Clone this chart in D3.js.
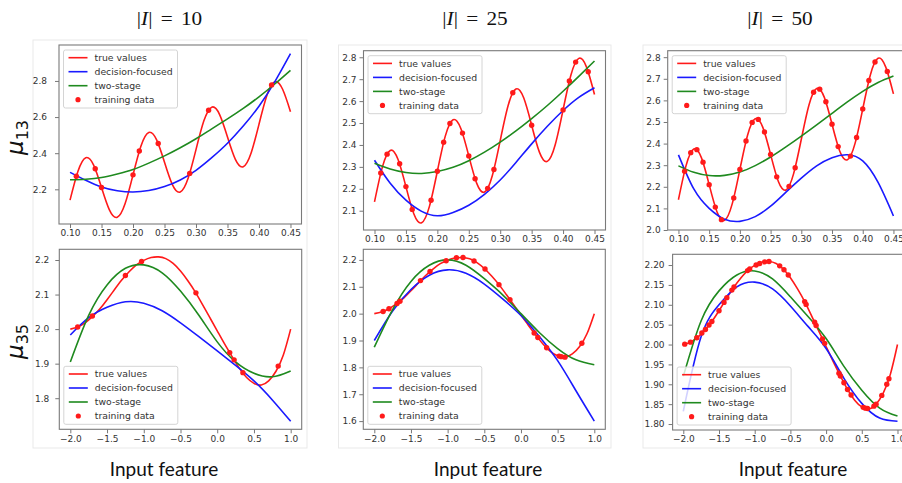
<!DOCTYPE html>
<html>
<head>
<meta charset="utf-8">
<script src="https://cdn.jsdelivr.net/npm/d3@7"></script>
<style>
body { margin: 0; background: #fff; }
svg { display: block; }
</style>
</head>
<body>
<svg id="fig" width="902" height="483"></svg>
<script>

// ---- data ----

var seriesNames = ['true values', 'decision-focused', 'two-stage', 'training data']
var columnTitles = ['10', '25', '50']

// top row: mu_13 against the input feature
var trueTopX = [0.1, 0.1125, 0.125, 0.1375, 0.15, 0.1625, 0.175, 0.1875, 0.2, 0.2125, 0.225, 0.2375, 0.25, 0.2625, 0.275,
	0.2875, 0.3, 0.3125, 0.325, 0.3375, 0.35, 0.3625, 0.375, 0.3875, 0.4, 0.4125, 0.425, 0.4375, 0.45]
var trueTopY = [2.140, 2.299, 2.375, 2.334, 2.210, 2.086, 2.045, 2.121, 2.280, 2.439, 2.515, 2.474, 2.350, 2.226, 2.185,
	2.261, 2.420, 2.579, 2.655, 2.614, 2.490, 2.366, 2.325, 2.401, 2.560, 2.719, 2.795, 2.754, 2.630]

var fitTopX = [0.1, 0.125, 0.15, 0.175, 0.2, 0.225, 0.25, 0.275, 0.3, 0.325, 0.35, 0.375, 0.4, 0.425, 0.45]
var dfTop10 = [2.294, 2.250, 2.213, 2.192, 2.185, 2.193, 2.215, 2.252, 2.305, 2.375, 2.455, 2.550, 2.660, 2.795, 2.951]
var tsTop10 = [2.253, 2.256, 2.265, 2.285, 2.310, 2.345, 2.385, 2.430, 2.480, 2.535, 2.590, 2.648, 2.712, 2.783, 2.859]
var dfTop25 = [2.330, 2.225, 2.148, 2.097, 2.077, 2.092, 2.125, 2.175, 2.240, 2.320, 2.405, 2.485, 2.557, 2.617, 2.661]
var tsTop25 = [2.316, 2.290, 2.274, 2.270, 2.279, 2.298, 2.328, 2.367, 2.413, 2.464, 2.520, 2.580, 2.645, 2.713, 2.783]
var dfTop50 = [2.348, 2.190, 2.100, 2.050, 2.040, 2.062, 2.110, 2.175, 2.240, 2.297, 2.335, 2.348, 2.320, 2.220, 2.065]
var tsTop50 = [2.297, 2.267, 2.252, 2.253, 2.268, 2.298, 2.338, 2.385, 2.435, 2.487, 2.540, 2.593, 2.642, 2.683, 2.713]

var trainTop10X = [0.11, 0.14, 0.15, 0.20, 0.21, 0.24, 0.29, 0.32, 0.42]
var trainTop10Y = [2.272, 2.314, 2.210, 2.280, 2.412, 2.454, 2.288, 2.638, 2.778]
var trainTop25X = [0.11, 0.12, 0.14, 0.15, 0.16, 0.19, 0.20, 0.21, 0.22, 0.24, 0.25, 0.26, 0.28, 0.29, 0.32, 0.35, 0.40, 0.41, 0.42, 0.44]
var trainTop25Y = [2.272, 2.358, 2.314, 2.210, 2.106, 2.148, 2.280, 2.412, 2.498, 2.454, 2.350, 2.246, 2.202, 2.288, 2.638, 2.490, 2.560, 2.692, 2.778, 2.734]
var trainTop50X = [0.11, 0.12, 0.13, 0.14, 0.15, 0.16, 0.17, 0.19, 0.20, 0.21, 0.22, 0.23, 0.24, 0.25, 0.26, 0.28, 0.29,
	0.32, 0.33, 0.34, 0.35, 0.36, 0.38, 0.39, 0.40, 0.41, 0.42, 0.44]
var trainTop50Y = [2.272, 2.358, 2.372, 2.314, 2.210, 2.106, 2.048, 2.148, 2.280, 2.412, 2.498, 2.512, 2.454, 2.350, 2.246, 2.202, 2.288,
	2.638, 2.652, 2.594, 2.490, 2.386, 2.342, 2.428, 2.560, 2.692, 2.778, 2.734]

// bottom row: mu_35 against the input feature
var trueBotX = [-2.0, -1.9, -1.8, -1.7, -1.6, -1.5, -1.4, -1.3, -1.2, -1.1, -1.0, -0.9, -0.8, -0.7, -0.6, -0.5,
	-0.4, -0.3, -0.2, -0.1, 0.0, 0.1, 0.2, 0.3, 0.4, 0.5, 0.6, 0.7, 0.8, 0.9, 1.0]
var trueBotY = [2.000, 2.006, 2.018, 2.036, 2.058, 2.085, 2.114, 2.142, 2.166, 2.186, 2.199, 2.207, 2.209, 2.204, 2.190, 2.168,
	2.140, 2.108, 2.071, 2.033, 1.995, 1.957, 1.921, 1.887, 1.860, 1.843, 1.838, 1.850, 1.878, 1.925, 2.000]

var fitBotX = [-2.0, -1.75, -1.5, -1.25, -1.0, -0.75, -0.5, -0.25, 0.0, 0.25, 0.5, 0.75, 1.0]
var dfBot10 = [1.983, 2.033, 2.063, 2.079, 2.075, 2.053, 2.018, 1.978, 1.937, 1.895, 1.850, 1.795, 1.733]
var tsBot10 = [1.905, 2.040, 2.128, 2.176, 2.186, 2.163, 2.110, 2.040, 1.963, 1.905, 1.872, 1.862, 1.879]
var dfBot25 = [1.900, 2.010, 2.090, 2.143, 2.163, 2.150, 2.110, 2.055, 1.993, 1.915, 1.825, 1.713, 1.600]
var tsBot25 = [1.875, 2.015, 2.120, 2.180, 2.200, 2.180, 2.130, 2.070, 2.000, 1.930, 1.870, 1.828, 1.810]
var dfBot50 = [1.832, 2.020, 2.100, 2.145, 2.157, 2.140, 2.097, 2.045, 1.990, 1.915, 1.852, 1.815, 1.807]
var tsBot50 = [1.920, 2.060, 2.135, 2.175, 2.185, 2.165, 2.120, 2.070, 2.015, 1.945, 1.885, 1.840, 1.820]

var trainBot10X = [-1.9, -1.7, -1.25, -1.03, -0.29, 0.17, 0.23, 0.35, 0.83]
var trainBot10Y = [2.006, 2.038, 2.155, 2.196, 2.105, 1.932, 1.911, 1.874, 1.893]
var trainBot25X = [-1.88, -1.8, -1.69, -1.65, -1.37, -1.24, -1.02, -0.88, -0.79, -0.64, -0.49, -0.3, -0.15, 0.18, 0.23, 0.35, 0.52, 0.55, 0.6, 0.83]
var trainBot25Y = [2.008, 2.018, 2.038, 2.046, 2.123, 2.157, 2.197, 2.208, 2.209, 2.196, 2.166, 2.108, 2.052, 1.928, 1.911, 1.873, 1.842, 1.840, 1.838, 1.890]
var trainBot50X = [-1.98, -1.9, -1.81, -1.74, -1.69, -1.64, -1.6, -1.5, -1.43, -1.39, -1.32, -1.29, -1.1, -1.07, -0.98, -0.93, -0.86, -0.8,
	-0.65, -0.59, -0.53, -0.3, -0.28, -0.16, -0.14, -0.05, -0.02, 0.18, 0.2, 0.25, 0.3, 0.35, 0.52, 0.55, 0.58, 0.67, 0.7, 0.78, 0.85, 0.88]
var trainBot50Y = [2.001, 2.006, 2.017, 2.029, 2.038, 2.049, 2.058, 2.085, 2.106, 2.118, 2.137, 2.145, 2.186, 2.190, 2.200, 2.204, 2.208, 2.209,
	2.198, 2.188, 2.175, 2.108, 2.101, 2.056, 2.048, 2.014, 2.003, 1.928, 1.921, 1.904, 1.887, 1.873, 1.842, 1.840, 1.839, 1.845, 1.850, 1.872, 1.900, 1.914]

// tick values
var xTicksTop = [0.10, 0.15, 0.20, 0.25, 0.30, 0.35, 0.40, 0.45]
var xTicksBot = [-2.0, -1.5, -1.0, -0.5, 0.0, 0.5, 1.0]
var yTicksTop10 = [2.2, 2.4, 2.6, 2.8]
var yTicksTop25 = [2.1, 2.2, 2.3, 2.4, 2.5, 2.6, 2.7, 2.8]
var yTicksTop50 = [2.0, 2.1, 2.2, 2.3, 2.4, 2.5, 2.6, 2.7, 2.8]
var yTicksBot10 = [1.8, 1.9, 2.0, 2.1, 2.2]
var yTicksBot25 = [1.6, 1.7, 1.8, 1.9, 2.0, 2.1, 2.2]
var yTicksBot50 = [1.80, 1.85, 1.90, 1.95, 2.00, 2.05, 2.10, 2.15, 2.20]

// ---- layout ----

var colors = { truth: '#ff1a1a', df: '#1a1aff', ts: '#1f8a1f' }
var tickFont = '"DejaVu Sans", sans-serif'

var svg = d3.select('#fig')

// faint edges of the three pasted screenshots
var sheets = [[33, 307, 40, 448], [338.5, 611, 45, 448], [643, 910, 45, 448]]
svg.selectAll('rect.sheet')
	.data(sheets)
	.enter()
	.append('rect')
	.attr('class', 'sheet')
	.attr('x', function(d) { return d[0] })
	.attr('y', function(d) { return d[2] })
	.attr('width', function(d) { return d[1] - d[0] })
	.attr('height', function(d) { return d[3] - d[2] })
	.attr('fill', '#fff')
	.attr('stroke', '#e9e9e9')

var panels = [
	{ box: [59, 301.5, 45, 224], xd: [0.0825, 0.4675], yd: [2.008, 2.999], xt: xTicksTop, yt: yTicksTop10, xf: '.2f', yf: '.1f', ypad: 8,
		tx: trueTopX, ty: trueTopY, fx: fitTopX, df: dfTop10, ts: tsTop10, px: trainTop10X, py: trainTop10Y, leg: 'top' },
	{ box: [363.5, 605.5, 50.7, 230], xd: [0.0825, 0.4675], yd: [2.012, 2.830], xt: xTicksTop, yt: yTicksTop25, xf: '.2f', yf: '.1f', ypad: 3,
		tx: trueTopX, ty: trueTopY, fx: fitTopX, df: dfTop25, ts: tsTop25, px: trainTop25X, py: trainTop25Y, leg: 'top' },
	{ box: [667.7, 904.2, 50.7, 230], xd: [0.0825, 0.4675], yd: [2.0, 2.83], xt: xTicksTop, yt: yTicksTop50, xf: '.2f', yf: '.1f', ypad: 3,
		tx: trueTopX, ty: trueTopY, fx: fitTopX, df: dfTop50, ts: tsTop50, px: trainTop50X, py: trainTop50Y, leg: 'top' },
	{ box: [59.3, 301.7, 249.3, 429.3], xd: [-2.15, 1.15], yd: [1.710, 2.231], xt: xTicksBot, yt: yTicksBot10, xf: '.1f', yf: '.1f', ypad: 6,
		tx: trueBotX, ty: trueBotY, fx: fitBotX, df: dfBot10, ts: tsBot10, px: trainBot10X, py: trainBot10Y, leg: 'bottom' },
	{ box: [363.3, 605.3, 249.3, 429.3], xd: [-2.15, 1.15], yd: [1.5695, 2.2395], xt: xTicksBot, yt: yTicksBot25, xf: '.1f', yf: '.1f', ypad: 2.5,
		tx: trueBotX, ty: trueBotY, fx: fitBotX, df: dfBot25, ts: tsBot25, px: trainBot25X, py: trainBot25Y, leg: 'bottom' },
	{ box: [672.6, 908.2, 254.3, 430], xd: [-2.15, 1.15], yd: [1.785, 2.227], xt: xTicksBot, yt: yTicksBot50, xf: '.1f', yf: '.2f', ypad: 4,
		tx: trueBotX, ty: trueBotY, fx: fitBotX, df: dfBot50, ts: tsBot50, px: trainBot50X, py: trainBot50Y, leg: 'bottom' }
]

var drawPanel = function(p, i) {

	var xScale = d3.scaleLinear().domain(p.xd).range([p.box[0], p.box[1]])
	var yScale = d3.scaleLinear().domain(p.yd).range([p.box[3], p.box[2]])

	var g = svg.append('g').attr('class', 'panel')

	g.append('clipPath')
		.attr('id', 'clip' + i)
		.append('rect')
		.attr('x', p.box[0])
		.attr('y', p.box[2])
		.attr('width', p.box[1] - p.box[0])
		.attr('height', p.box[3] - p.box[2])

	var plot = g.append('g').attr('clip-path', 'url(#clip' + i + ')')

	var line = d3.line()
		.x(function(d) { return xScale(d[0]) })
		.y(function(d) { return yScale(d[1]) })
		.curve(d3.curveNatural)

	var curves = [
		{ xs: p.tx, ys: p.ty, c: colors.truth },
		{ xs: p.fx, ys: p.df, c: colors.df },
		{ xs: p.fx, ys: p.ts, c: colors.ts }
	]

	curves.forEach(function(s) {
		plot.append('path')
			.datum(d3.zip(s.xs, s.ys))
			.attr('d', line)
			.attr('fill', 'none')
			.attr('stroke', s.c)
			.attr('stroke-width', 1.6)
	})

	plot.selectAll('circle')
		.data(d3.zip(p.px, p.py))
		.enter()
		.append('circle')
		.attr('cx', function(d) { return xScale(d[0]) })
		.attr('cy', function(d) { return yScale(d[1]) })
		.attr('r', 2.7)
		.attr('fill', colors.truth)

	// axes
	var xAxis = g.append('g')
		.attr('transform', 'translate(0,' + p.box[3] + ')')
		.call(d3.axisBottom(xScale).tickValues(p.xt).tickFormat(d3.format(p.xf)).tickSize(4).tickPadding(2))

	var yAxis = g.append('g')
		.attr('transform', 'translate(' + p.box[0] + ',0)')
		.call(d3.axisLeft(yScale).tickValues(p.yt).tickFormat(d3.format(p.yf)).tickSize(4).tickPadding(p.ypad))

	;[xAxis, yAxis].forEach(function(a) {
		a.select('.domain').remove()
		a.selectAll('line').attr('stroke', '#777')
		a.selectAll('text')
			.attr('fill', '#333')
			.style('font-family', tickFont)
			.style('font-size', '9px')
	})

	g.append('rect')
		.attr('x', p.box[0])
		.attr('y', p.box[2])
		.attr('width', p.box[1] - p.box[0])
		.attr('height', p.box[3] - p.box[2])
		.attr('fill', 'none')
		.attr('stroke', '#7a7a7a')
		.attr('stroke-width', 1.1)

	// legend
	var legW = 114, legH = 58
	var lx = p.box[0] + 4.5
	var ly = p.leg == 'top' ? p.box[2] + 5 : p.box[3] - 5 - legH

	var leg = g.append('g').attr('transform', 'translate(' + lx + ',' + ly + ')')

	leg.append('rect')
		.attr('width', legW)
		.attr('height', legH)
		.attr('rx', 2)
		.attr('fill', '#fff')
		.attr('fill-opacity', 0.8)
		.attr('stroke', '#d4d4d4')

	var legColors = [colors.truth, colors.df, colors.ts, colors.truth]

	leg.selectAll('g.entry')
		.data(seriesNames)
		.enter()
		.append('g')
		.attr('class', 'entry')
		.attr('transform', function(d, k) { return 'translate(0,' + (7.7 + k * 14) + ')' })
		.each(function(d, k) {
			var _this = d3.select(this)
			if (k < 3) {
				_this.append('line')
					.attr('x1', 5)
					.attr('x2', 24)
					.attr('stroke', legColors[k])
					.attr('stroke-width', 1.6)
			} else {
				_this.append('circle')
					.attr('cx', 14.5)
					.attr('r', 2.6)
					.attr('fill', legColors[k])
			}
			_this.append('text')
				.attr('x', 31)
				.attr('dy', '0.35em')
				.attr('fill', '#333')
				.style('font-family', tickFont)
				.style('font-size', '9.3px')
				.text(d)
		})
}

panels.forEach(drawPanel)

// column titles |I| = n, a little stretched like the math font in the picture
var titleX = [169.5, 475, 780]
svg.selectAll('text.title')
	.data(columnTitles)
	.enter()
	.append('text')
	.attr('class', 'title')
	.attr('transform', function(d, k) { return 'translate(' + titleX[k] + ',25) scale(1.18,1)' })
	.attr('text-anchor', 'middle')
	.style('font-family', '"Liberation Serif", "DejaVu Serif", serif')
	.style('font-size', '18px')
	.attr('fill', '#111')
	.each(function(d) {
		var t = d3.select(this)
		t.append('tspan').text('|')
		t.append('tspan').style('font-style', 'italic').text('I')
		t.append('tspan').text('|')
		t.append('tspan').attr('dx', 7).text('=')
		t.append('tspan').attr('dx', 7).text(d)
	})

// row labels mu_13 / mu_35
var rowLabels = [{ sub: '13', y: 137.5 }, { sub: '35', y: 341.5 }]
svg.selectAll('text.rowlab')
	.data(rowLabels)
	.enter()
	.append('text')
	.attr('class', 'rowlab')
	.attr('transform', function(d) { return 'translate(23,' + d.y + ') rotate(-90)' })
	.attr('text-anchor', 'middle')
	.attr('fill', '#111')
	.style('font-family', '"DejaVu Sans", sans-serif')
	.each(function(d) {
		var t = d3.select(this)
		t.append('tspan').style('font-style', 'italic').style('font-size', '23px').text('\u03bc')
		t.append('tspan').style('font-size', '16px').attr('dy', 5).text(d.sub)
	})

// x labels
var xlabX = [164, 488, 793]
svg.selectAll('text.xlab')
	.data(xlabX)
	.enter()
	.append('text')
	.attr('class', 'xlab')
	.attr('x', function(d) { return d })
	.attr('y', 476)
	.attr('text-anchor', 'middle')
	.attr('fill', '#111')
	.style('font-family', 'Lato, "Open Sans", sans-serif')
	.style('font-size', '19px')
	.text('Input feature')

</script>
</body>
</html>
